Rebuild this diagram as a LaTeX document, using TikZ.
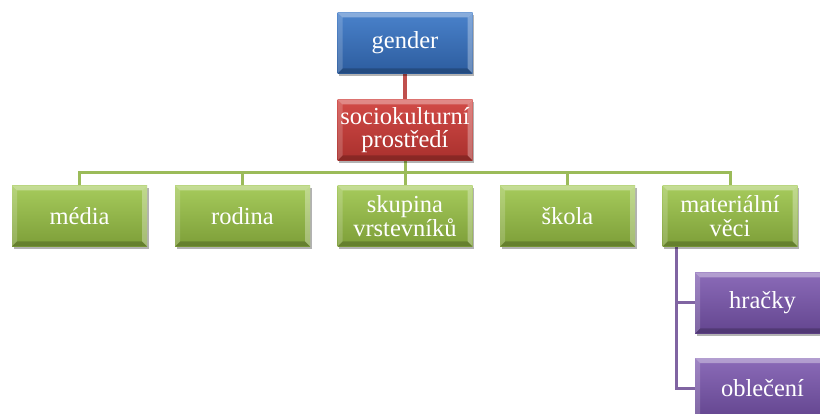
\documentclass[tikz,border=0pt]{standalone}
\usepackage{fontspec}
\setmainfont{Liberation Serif}
\newfontfamily\boxfont{Liberation Serif}
\usetikzlibrary{shadows,backgrounds}
\definecolor{blueT}{HTML}{4A82CB}
\definecolor{blueB}{HTML}{2C5C9E}
\definecolor{redT}{HTML}{D24B47}
\definecolor{redB}{HTML}{A9302D}
\definecolor{greenT}{HTML}{A6CB5C}
\definecolor{greenB}{HTML}{7D9E38}
\definecolor{purpT}{HTML}{8B6BB8}
\definecolor{purpB}{HTML}{63458F}
\definecolor{redL}{HTML}{C0504D}
\definecolor{greenL}{HTML}{9BBB59}
\definecolor{purpL}{HTML}{8064A2}
\tikzset{
  box/.style={rectangle, minimum width=135pt, minimum height=61pt, inner sep=1pt,
    text=white, font=\boxfont\fontsize{24.5}{23.5}\selectfont, align=center,
    drop shadow={shadow xshift=1.5pt, shadow yshift=-2.5pt, opacity=0.3, fill=black},
    path picture={
      \fill[white,opacity=0.35] (path picture bounding box.north west) -- (path picture bounding box.north east)
        -- ([xshift=-5pt,yshift=-5pt]path picture bounding box.north east) -- ([xshift=5pt,yshift=-5pt]path picture bounding box.north west) -- cycle;
      \fill[white,opacity=0.18] (path picture bounding box.north west) -- ([xshift=5pt,yshift=-5pt]path picture bounding box.north west)
        -- ([xshift=5pt,yshift=5pt]path picture bounding box.south west) -- (path picture bounding box.south west) -- cycle;
      \fill[white,opacity=0.3] (path picture bounding box.north east) -- ([xshift=-5pt,yshift=-5pt]path picture bounding box.north east)
        -- ([xshift=-5pt,yshift=5pt]path picture bounding box.south east) -- (path picture bounding box.south east) -- cycle;
      \fill[black,opacity=0.2] (path picture bounding box.south west) -- ([xshift=5pt,yshift=5pt]path picture bounding box.south west)
        -- ([xshift=-5pt,yshift=5pt]path picture bounding box.south east) -- (path picture bounding box.south east) -- cycle;
    }},
  bluebox/.style={box, top color=blueT, bottom color=blueB},
  redbox/.style={box, top color=redT, bottom color=redB},
  greenbox/.style={box, top color=greenT, bottom color=greenB},
  purpbox/.style={box, top color=purpT, bottom color=purpB},
  rline/.style={draw=redL, line width=3.5pt},
  gline/.style={draw=greenL, line width=3pt},
  pline/.style={draw=purpL, line width=3pt},
}
\begin{document}
\begin{tikzpicture}[x=1pt,y=-1pt]
\useasboundingbox (0,0) rectangle (820,414);
\clip (0,0) rectangle (820,414);
\node[bluebox] (gender) at (405,43) {gender};
\node[redbox] (socio) at (405,130) {sociokulturní\\prostředí};
\node[greenbox] (media) at (79.5,216) {média};
\node[greenbox] (rodina) at (242.5,216) {rodina};
\node[greenbox] (skupina) at (405,216) {skupina\\vrstevníků};
\node[greenbox] (skola) at (567.5,216) {škola};
\node[greenbox] (mat) at (730,216) {materiální\\věci};
\node[purpbox] (hracky) at (762.5,303) {hračky};
\node[purpbox] (obleceni) at (762.5,388.5) {oblečení};
\coordinate (bar) at (0,173);
\coordinate (pv) at (676,0);
\begin{scope}[on background layer]
\draw[rline] (gender.south) -- (socio.north);
\foreach \c in {media,rodina,skupina,skola,mat}{
  \draw[gline] (socio.south) |- (bar -| \c.north) -- (\c.north);
}
\draw[pline] (mat.south -| pv) |- (hracky.west);
\draw[pline] (mat.south -| pv) |- (obleceni.west);
\end{scope}
\end{tikzpicture}
\end{document}
